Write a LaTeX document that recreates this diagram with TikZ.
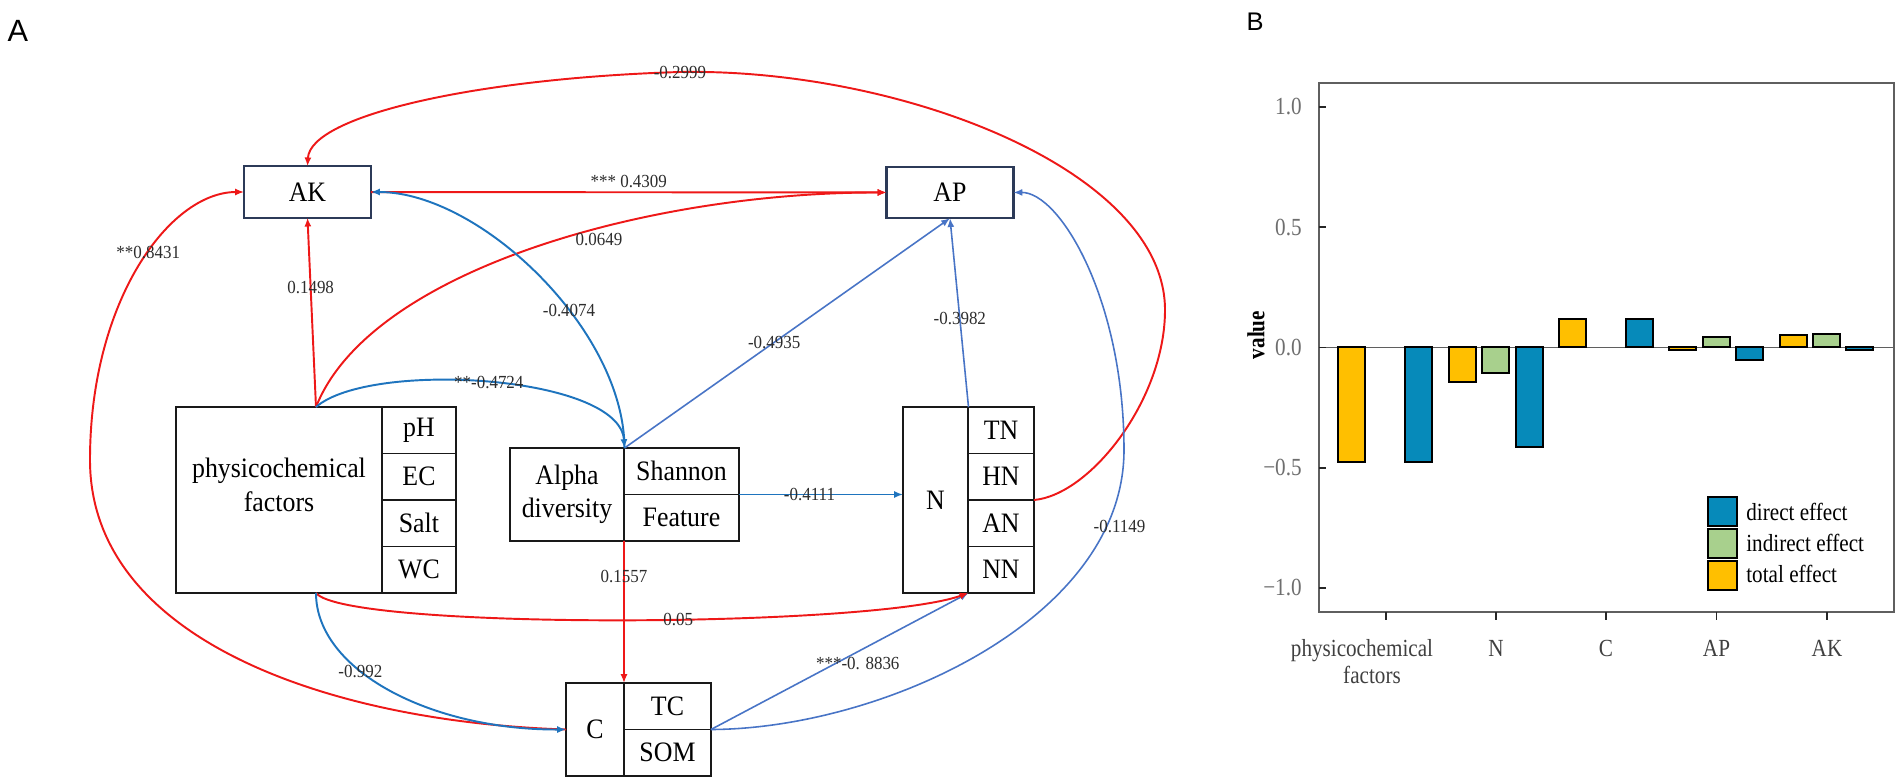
\documentclass[tikz,border=0pt]{standalone}
\usepackage{fontspec}
\setmainfont{Liberation Serif}
\newfontfamily\boxserif[FakeStretch=0.92]{Liberation Serif}
\newfontfamily\plotserif[FakeStretch=0.86]{Liberation Serif}
\newfontfamily\panelsans{Liberation Sans}
\usetikzlibrary{arrows.meta,positioning,fit}

\definecolor{pathred}{RGB}{238,24,24}
\definecolor{pathblue}{RGB}{30,116,190}
\definecolor{pathsoft}{RGB}{72,116,198}
\definecolor{navyline}{RGB}{44,58,88}
\definecolor{coefgray}{RGB}{45,45,45}
\definecolor{directc}{RGB}{6,138,186}
\definecolor{indirectc}{RGB}{168,208,141}
\definecolor{totalc}{RGB}{255,191,0}
\definecolor{framegray}{RGB}{95,95,95}
\definecolor{tickgray}{RGB}{110,110,110}

\newcommand{\boxtxt}{\boxserif\fontsize{16}{19}\selectfont}
\newcommand{\coeftxt}{\boxserif\fontsize{10.5}{12}\selectfont}
\newcommand{\plottxt}{\plotserif\fontsize{14}{16}\selectfont}

\begin{document}
\begin{tikzpicture}[x=0.02cm, y=-0.02cm, >={Latex[length=5pt,width=4pt]},
  box/.style={draw=black!90, line width=1.1pt, fill=white, outer sep=0pt, inner sep=0pt, font=\boxtxt, align=center},
  topbox/.style={box, draw=navyline, line width=1.3pt, minimum width=2.54cm, minimum height=1.03cm},
  cell/.style={box, minimum height=0.93cm},
  group/.style={inner sep=0pt, outer sep=0pt},
  redpath/.style={->, draw=pathred, line width=1.1pt},
  bluepath/.style={->, draw=pathblue, line width=1.1pt},
  softpath/.style={->, draw=pathsoft, line width=0.9pt},
  coef/.style={font=\coeftxt, text=coefgray, inner sep=1pt},
  bar/.style={draw=black, line width=1.1pt},
  legbox/.style={draw=black, line width=1.4pt},
  ticklab/.style={font=\plottxt, text=tickgray, inner sep=0pt},
  axislab/.style={font=\plottxt, text=black!75, inner sep=0pt, anchor=base},
  panel/.style={font=\panelsans, inner sep=0pt}]

  \fill[white] (0,0) rectangle (1901,784);
  \useasboundingbox (0,0) rectangle (1901,784);

  \node[panel, font=\panelsans\fontsize{17.5}{20}\selectfont] (labA) at (18,31) {A};
  \node[panel, font=\panelsans\fontsize{14.5}{17}\selectfont] (labB) at (1255,22) {B};

  % boxes
  \node[topbox] (AK) at (307.5,192) {AK};
  \node[topbox] (AP) at (950,192.5) {AP};

  \node[box, minimum width=4.12cm, minimum height=3.72cm,
    label={[font=\boxtxt, align=center, yshift=0.3cm]center:physicochemical\\factors}] (physL) at (279,500) {};
  \node[cell, minimum width=1.48cm, anchor=north west] (pH) at (physL.north east) {pH};
  \node[cell, minimum width=1.48cm] (EC) [below=0pt of pH] {EC};
  \node[cell, minimum width=1.48cm] (Salt) [below=0pt of EC] {Salt};
  \node[cell, minimum width=1.48cm] (WC) [below=0pt of Salt] {WC};
  \node[group, fit=(physL)(WC)] (phys) {};

  \node[box, minimum width=2.28cm, minimum height=1.86cm] (alphaL) at (567,494.5) {Alpha\\diversity};
  \node[cell, minimum width=2.30cm, anchor=north west] (shannon) at (alphaL.north east) {Shannon};
  \node[cell, minimum width=2.30cm] (feature) [below=0pt of shannon] {Feature};
  \node[group, fit=(alphaL)(feature)] (alpha) {};

  \node[box, minimum width=1.30cm, minimum height=3.72cm] (NL) at (935.5,500) {N};
  \node[cell, minimum width=1.32cm, anchor=north west] (TN) at (NL.north east) {TN};
  \node[cell, minimum width=1.32cm] (HN) [below=0pt of TN] {HN};
  \node[cell, minimum width=1.32cm] (AN) [below=0pt of HN] {AN};
  \node[cell, minimum width=1.32cm] (NN) [below=0pt of AN] {NN};
  \node[group, fit=(NL)(NN)] (Nall) {};

  \node[box, minimum width=1.16cm, minimum height=1.86cm] (CL) at (595,729.5) {C};
  \node[cell, minimum width=1.74cm, anchor=north west] (TC) at (CL.north east) {TC};
  \node[cell, minimum width=1.74cm] (SOM) [below=0pt of TC] {SOM};
  \node[group, fit=(CL)(SOM)] (Call) {};

  % paths
  \path (AK) edge[redpath] node[coef, above=1pt, pos=0.5] {*** 0.4309} (AP)
        (phys.north) edge[redpath] node[coef, pos=0.63] {0.1498} (AK.south)
        (alphaL.south east) edge[redpath] node[coef, pos=0.25] {0.1557} (CL.north east);

  \path (alpha.north) edge[softpath] node[coef, pos=0.46] {-0.4935} (AP.south)
        (Nall.north) edge[softpath] node[coef, pos=0.47] {-0.3982} (AP.south)
        (alpha.east) edge[bluepath] node[coef, pos=0.43] {-0.4111} (alpha.east -| NL.west)
        (Call.east) edge[softpath] node[coef, pos=0.57, yshift=-0.24cm] {***-0. 8836} (Nall.south);

  \draw[redpath] (phys.north) .. controls (370,270) and (650,192) .. (AP.west)
    node[coef, below=1pt, pos=0.6] {0.0649};
  \draw[redpath] (Call.west) .. controls (330,722) and (90,640) .. (90,460)
    .. controls (90,300) and (170,192) .. (AK.west) node[coef, pos=0.55] {**0.8431};
  \draw[redpath] (Nall.east) .. controls (1090,495) and (1165,400) .. (1165,310)
    .. controls (1165,170) and (900,68) .. (680,72)
    .. controls (480,78) and (310,115) .. (AK.north) node[coef, pos=0] {-0.2999};
  \draw[redpath] (phys.south) .. controls (345,630) and (870,628) .. (Nall.south)
    node[coef, pos=0.57] {0.05};

  \draw[bluepath] (alpha.north) .. controls (624,330) and (480,192) .. (AK.east)
    node[coef, pos=0.39] {-0.4074};
  \draw[bluepath] (phys.north) .. controls (370,360) and (620,375) .. (alpha.north)
    node[coef, pos=0.5] {**-0.4724};
  \draw[bluepath] (phys.south) .. controls (316,670) and (430,730) .. (Call.west)
    node[coef, pos=0.38] {-0.992};
  \draw[softpath] (Call.east) .. controls (880,729) and (1124,620) .. (1124,450)
    node[coef, pos=0.84, xshift=0.26cm] {-0.1149}
    .. controls (1124,300) and (1060,192) .. (AP.east);

  % effects chart
  \begin{scope}[x=0.02cm, y=4.81cm, shift={(0cm,-6.95cm)}]
    \draw[framegray, line width=1pt] (1319,-1.1) rectangle (1894,1.1);
    \draw[framegray, line width=1pt] (1319,0) -- (1894,0);
    \foreach \v/\t [count=\i] in {1/1.0, 0.5/0.5, 0/0.0, -0.5/−0.5, -1/−1.0} {
      \draw[black!85, line width=1pt] (1319,\v) -- (1326,\v);
      \node[ticklab, anchor=east] (ytick\i) at (1302,\v) {\t};
    }
    \foreach \x/\v/\c in {1338/-0.476/totalc, 1405/-0.476/directc,
        1449/-0.143/totalc, 1482/-0.106/indirectc, 1516/-0.414/directc,
        1559/0.1185/totalc, 1626/0.1185/directc,
        1669/-0.01/totalc, 1703/0.0437/indirectc, 1736/-0.052/directc,
        1780/0.052/totalc, 1813/0.056/indirectc, 1846/-0.01/directc}
      \draw[bar, fill=\c] (\x,0) rectangle ++(27,\v);
  \end{scope}

  \foreach \x in {1386,1496,1606,1716.5,1827}
    \draw[black!85, line width=1pt] (\x,612) -- (\x,620);
  \node[axislab] (xphys) at (1362,656) {physicochemical};
  \node[axislab] (xfact) at (1372,683) {factors};
  \node[axislab] (xN) at (1496,656) {N};
  \node[axislab] (xC) at (1606,656) {C};
  \node[axislab] (xAP) at (1716.5,656) {AP};
  \node[axislab] (xAK) at (1827,656) {AK};
  \node[font=\plotserif\bfseries\fontsize{14}{16}\selectfont, rotate=90, inner sep=0pt] (ylab) at (1256,335) {value};

  \draw[legbox, fill=directc] (1708,497) rectangle (1737,526);
  \draw[legbox, fill=indirectc] (1708,529) rectangle (1737,558);
  \draw[legbox, fill=totalc] (1708,561) rectangle (1737,590);
  \node[font=\plottxt, anchor=west, inner sep=0pt] (legdirect) at (1746,512) {direct effect};
  \node[font=\plottxt, anchor=west, inner sep=0pt] (legindirect) at (1746,543) {indirect effect};
  \node[font=\plottxt, anchor=west, inner sep=0pt] (legtotal) at (1746,574) {total effect};
\end{tikzpicture}
\end{document}
